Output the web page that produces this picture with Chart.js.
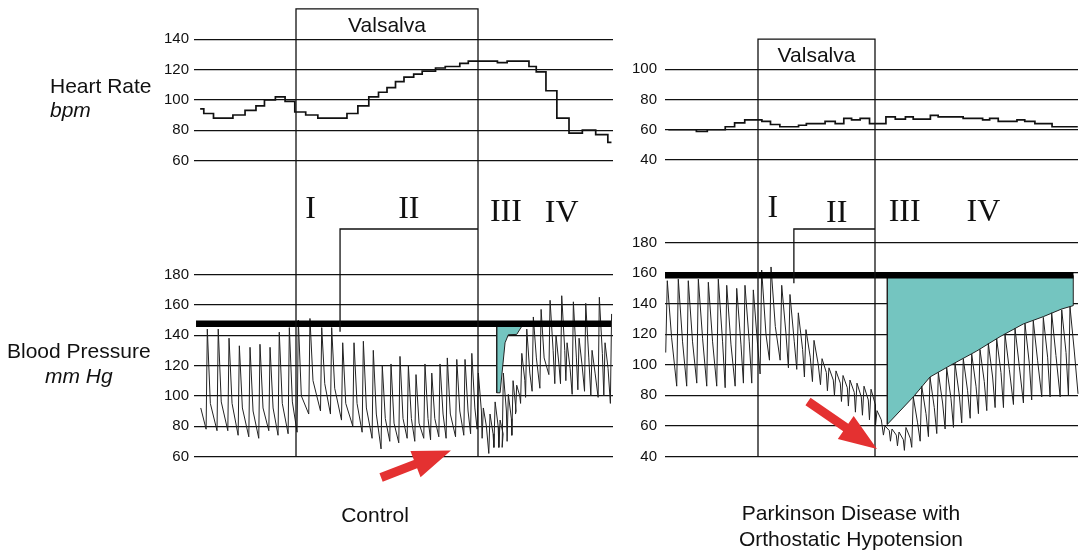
<!DOCTYPE html>
<html>
<head>
<meta charset="utf-8">
<title>Valsalva maneuver: heart rate and blood pressure</title>
<script src="https://cdn.jsdelivr.net/npm/chart.js@4.4.1/dist/chart.umd.min.js"></script>
<style>
  body { margin: 0; background: #fff; font-family: "Liberation Sans", Arial, sans-serif; color: #111; }
  .page { position: relative; width: 1080px; height: 552px; overflow: hidden; }
  canvas { position: absolute; top: 0; }
  #ctlChart { left: 0; }
  #pdChart { left: 620px; }
  .lbl { position: absolute; font-size: 21px; line-height: 21px; white-space: nowrap; }
  .it { font-style: italic; }
  .cap { position: absolute; font-size: 21px; line-height: 26px; text-align: center; }
</style>
</head>
<body>
<div class="page">
  <canvas id="ctlChart" width="620" height="552"></canvas>
  <canvas id="pdChart" width="460" height="552"></canvas>

  <div class="lbl" style="left:50px; top:75px">Heart Rate</div>
  <div class="lbl it" style="left:50px; top:99px">bpm</div>
  <div class="lbl" style="left:7px; top:340px">Blood Pressure</div>
  <div class="lbl it" style="left:45px; top:365px">mm Hg</div>

  <div class="cap" style="left:275px; top:502px; width:200px">Control</div>
  <div class="cap" style="left:701px; top:500px; width:300px">Parkinson Disease with<br>Orthostatic Hypotension</div>
</div>

<script>
// time axis in seconds, strain held from 0 to 15 s
const valsalvaStart = 0;
const valsalvaEnd = 15;
const phaseNames = ['I', 'II', 'III', 'IV'];

// ---- control subject ----
const ctlHrTicks = [60, 80, 100, 120, 140];
const ctlBpTicks = [60, 80, 100, 120, 140, 160, 180];

const ctlHrTime = [-7.9, -7.6, -6.8, -5.2, -4.2, -3.3, -2.6, -1.7, -0.9, -0.1, 0.8, 1.8, 4.2, 5.1, 6.0, 6.8, 7.5, 8.2,
                   8.9, 9.7, 10.4, 11.5, 12.3, 13.5, 14.2, 16.6, 17.4, 19.2, 19.8, 20.6, 21.5, 22.5, 23.6, 24.7, 25.7, 26.0];
const ctlHr = [94, 91, 88, 90, 93, 96, 100, 102, 99, 92, 90, 88, 91, 96, 102, 105, 108, 112,
               115, 117, 119, 121, 122, 124, 125.5, 124.5, 125.5, 122, 118.5, 106, 88, 78, 80, 77, 72, 72];

// one entry per beat: time of systolic peak, systolic, preceding diastolic and dicrotic notch pressure
const ctlBeatTime = [-7.31, -6.41, -5.52, -4.67, -3.79, -2.97, -2.14, -1.38, -0.55, 0.19,
                     1.15, 2.12, 2.94, 3.85, 4.78, 5.55, 6.37, 7.11, 7.83, 8.57,
                     9.26, 9.89, 10.63, 11.19, 11.87, 12.47, 13.25, 13.93, 14.49, 15.03,
                     15.44, 15.99, 16.41, 16.82, 17.09, 17.50, 17.89, 18.19, 18.61, 19.02,
                     19.56, 20.20, 20.94, 21.43, 21.90, 22.34, 22.86, 23.33, 23.88, 24.40,
                     25.00, 25.47, 26.01];
const ctlSys = [144, 144, 138, 133, 132, 134, 132, 142, 145, 150,
                151, 145, 145, 135, 135, 136, 130, 120, 121, 126,
                120, 114, 121, 115, 121, 125, 124, 124, 128, 115,
                92, 88, 96, 84, 115, 101, 110, 107, 128, 144,
                152, 157, 163, 140, 166, 135, 162, 138, 161, 130,
                165, 135, 154];
const ctlDia = [78, 77, 77, 74, 73, 72, 77, 74, 75, 76,
                88, 90, 88, 84, 80, 76, 72, 65, 70, 69,
                72, 70, 72, 71, 73, 72, 73, 74, 75, 78,
                72, 62, 66, 66, 66, 70, 74, 88, 95, 99,
                103, 105, 114, 108, 108, 110, 101, 104, 103, 100,
                99, 100, 95];
const ctlNotch = [95, 96, 95, 92, 90, 92, 92, 95, 96, 100,
                  110, 108, 105, 95, 95, 92, 88, 85, 82, 85,
                  85, 82, 85, 85, 88, 88, 90, 90, 92, 90,
                  80, 75, 80, 75, 90, 85, 90, 100, 110, 115,
                  125, 125, 130, 120, 130, 118, 125, 120, 125, 115,
                  128, 118, null];
const ctlBpStart = [-7.85, 92];
const ctlBaseline = 147.5;
const ctlBaselineSpan = [-8.24, 25.96];
// pressure recovery area below baseline
const ctlRecoveryTime = [16.54, 16.54, 16.82, 17.23, 17.50, 18.19, 18.74];
const ctlRecoveryBp = [147.5, 102, 102, 135, 140.3, 140.5, 147.5];
const ctlPhaseIIStart = 3.63;
const ctlPhaseLabelTime = [1.2, 9.3, 17.3, 21.9];
const ctlArrow = [7.01, 46.2, 12.77, 64.0];   // tail t, tail bp, tip t, tip bp

// ---- Parkinson disease with orthostatic hypotension ----
const pdHrTicks = [40, 60, 80, 100];
const pdBpTicks = [40, 60, 80, 100, 120, 140, 160, 180];

const pdHrTime = [-11.5, -7.9, -6.5, -4.2, -3.0, -1.7, 0.5, 1.6, 2.8, 5.2, 6.2, 8.6, 9.9, 11.0, 12.0, 13.1,
                  14.3, 16.4, 17.6, 18.9, 19.9, 22.1, 23.1, 26.3, 28.8, 29.7, 30.8, 33.2, 34.2, 35.5, 37.7, 41.0];
const pdHr = [60, 59, 60, 62, 64.5, 66.5, 65.5, 63.5, 62, 63, 64, 65.5, 64, 67.5, 66.5, 67.5,
              64, 68.5, 67, 68.5, 67, 69.5, 68.5, 67.5, 66.5, 67.5, 65.5, 66.5, 65.5, 64, 62, 62];

const pdBeatTime = [-11.63, -10.22, -8.94, -7.65, -6.37, -5.09, -4.01, -2.73, -1.67, -0.60,
                    0.47, 1.67, 3.04, 4.10, 5.17, 6.15, 7.18, 8.21, 9.10, 10.00,
                    10.90, 11.79, 12.69, 13.59, 14.49, 15.26, 16.28, 17.18, 18.08, 18.97,
                    19.91, 20.99, 22.05, 23.12, 24.19, 25.26, 26.32, 27.40, 28.46, 29.53,
                    30.60, 31.67, 32.95, 34.23, 35.29, 36.58, 37.65, 38.94, 40.00];
const pdSys = [155, 156, 155, 156, 154, 156, 152, 150, 152, 149,
               162, 164, 152, 146, 134, 123, 116, 104, 98, 96,
               93, 90, 88, 86, 84, 70, 60, 58, 56, 59,
               79, 86, 92, 95, 98, 101, 104, 107, 110, 114,
               117, 120, 124, 127, 129, 131, 134, 136, 138];
const pdDia = [108, 86, 86, 88, 86, 86, 85, 86, 88, 88,
               94, 103, 103, 98, 97, 92, 89, 87, 83, 80,
               76, 73, 69, 67, 64, 60, 54, 50, 47, 44,
               46, 50, 53, 55, 58, 59, 62, 65, 68, 70,
               72, 72, 74, 75, 77, 79, 79, 79, 80];
const pdNotch = [118, 115, 115, 117, 115, 115, 113, 113, 115, 113,
                 120, 125, 120, 115, 110, 105, 100, 95, 90, 88,
                 85, 82, 79, 77, 74, 64, 57, 54, 51, 52,
                 62, 68, 72, 75, 78, 80, 83, 86, 89, 92,
                 95, 97, 99, 101, 103, 105, 106, 108, 109];
const pdBpEnd = [41.03, 81];
const pdBaseline = 158.5;
const pdBaselineSpan = [-11.92, 40.45];
const pdRecoveryTime = [16.58, 16.58, 19.91, 22.05, 24.62, 28.04, 31.03, 34.01, 36.58, 38.94, 40.42, 40.42];
const pdRecoveryBp = [158.5, 61, 79, 92, 99.5, 109, 118.4, 126.7, 131.5, 136.5, 138.7, 158.5];
const pdPhaseIIStart = 4.6;
const pdPhaseLabelTime = [1.9, 10.1, 18.8, 28.9];
const pdArrow = [6.41, 76.0, 15.26, 44.9];

const INK = '#111';
const TEAL = '#74c5c0';
const ARROW_RED = '#e43131';
const SANS = '"Liberation Sans", Arial, Helvetica, sans-serif';
const SERIF = '"Liberation Serif", "Times New Roman", serif';
const SPLIT = 200;   // canvas row where the heart rate strip ends and the pressure strip begins

Chart.defaults.font.family = SANS;
Chart.defaults.color = INK;

// min/max so that the first and last tick land on the given canvas rows
// of a scale that covers rows regionTop..regionBottom
function spanFor(ticks, rows, regionTop, regionBottom) {
  const top = ticks[ticks.length - 1], bottom = ticks[0];
  const k = (rows[1] - rows[0]) / (top - bottom);
  return { min: bottom - (regionBottom - rows[1]) / k, max: top + (rows[0] - regionTop) / k };
}

function pts(xs, ys) {
  return xs.map((x, i) => ({ x: x, y: ys[i] }));
}

// beat-by-beat pressure trace: diastolic foot, upstroke to systolic peak,
// fall to the dicrotic notch, then run-off to the next foot
function pressureTrace(p) {
  const out = [];
  if (p.bpStart) out.push({ x: p.bpStart[0], y: p.bpStart[1] });
  p.beatTime.forEach((t, i) => {
    out.push({ x: t - p.upstroke, y: p.dia[i] });
    out.push({ x: t, y: p.sys[i] });
    if (p.notch[i] !== null) out.push({ x: t + p.notchDelay, y: p.notch[i] });
  });
  if (p.bpEnd) out.push({ x: p.bpEnd[0], y: p.bpEnd[1] });
  return out;
}

function drawArrow(ctx, x0, y0, x1, y1) {
  const len = Math.hypot(x1 - x0, y1 - y0);
  const ux = (x1 - x0) / len, uy = (y1 - y0) / len;
  const nx = -uy, ny = ux;
  const headLen = 38, headHalf = 14, shaftHalf = 4.5;
  const bx = x1 - ux * headLen, by = y1 - uy * headLen;
  ctx.beginPath();
  ctx.moveTo(x0 + nx * shaftHalf, y0 + ny * shaftHalf);
  ctx.lineTo(bx + nx * shaftHalf, by + ny * shaftHalf);
  ctx.lineTo(bx + nx * headHalf, by + ny * headHalf);
  ctx.lineTo(x1, y1);
  ctx.lineTo(bx - nx * headHalf, by - ny * headHalf);
  ctx.lineTo(bx - nx * shaftHalf, by - ny * shaftHalf);
  ctx.lineTo(x0 - nx * shaftHalf, y0 - ny * shaftHalf);
  ctx.closePath();
  ctx.fill();
}

// Valsalva box, phase boundaries, phase labels, phase II bracket and arrow
const valsalvaMarks = {
  id: 'valsalvaMarks',
  afterDatasetsDraw(chart, args, o) {
    const { ctx } = chart;
    const xs = chart.scales.x, hr = chart.scales.hr, bp = chart.scales.bp;
    const x0 = xs.getPixelForValue(valsalvaStart);
    const x1 = xs.getPixelForValue(valsalvaEnd);
    const boxTop = hr.getPixelForValue(o.boxTopHr);
    const boxBottom = hr.getPixelForValue(o.hrTicks[o.hrTicks.length - 1]);
    const floor = bp.getPixelForValue(o.bpTicks[0]);

    ctx.save();
    ctx.strokeStyle = INK;
    ctx.lineWidth = 1.3;
    ctx.beginPath();
    ctx.moveTo(x0, floor);
    ctx.lineTo(x0, boxTop);
    ctx.lineTo(x1, boxTop);
    ctx.lineTo(x1, floor);
    const xb = xs.getPixelForValue(o.phaseIIStart);
    ctx.moveTo(x1, o.bracketY);
    ctx.lineTo(xb, o.bracketY);
    ctx.lineTo(xb, bp.getPixelForValue(o.bracketEndBp));
    ctx.stroke();

    ctx.fillStyle = INK;
    ctx.textAlign = 'center';
    ctx.textBaseline = 'alphabetic';
    ctx.font = '21px ' + SANS;
    ctx.fillText('Valsalva', (x0 + x1) / 2, boxBottom - 7.5);

    ctx.font = '32px ' + SERIF;
    phaseNames.forEach((name, i) => {
      ctx.fillText(name, xs.getPixelForValue(o.phaseTimes[i]), o.phaseY[i]);
    });

    ctx.fillStyle = ARROW_RED;
    const a = o.arrow;
    drawArrow(ctx, xs.getPixelForValue(a[0]), bp.getPixelForValue(a[1]),
                   xs.getPixelForValue(a[2]), bp.getPixelForValue(a[3]));
    ctx.restore();
  }
};

function makePanel(id, p) {
  const canvas = document.getElementById(id);
  const H = canvas.height;
  const hrRange = spanFor(p.hrTicks, p.hrRows, 0, SPLIT);
  const bpRange = spanFor(p.bpTicks, p.bpRows, SPLIT, H);

  // heart rate and pressure axes share the left column, stacked top to bottom
  const yAxis = (ticks, range, weight, share) => ({
    type: 'linear',
    position: 'left',
    stack: 'strips',
    stackWeight: share,
    weight: weight,
    min: range.min,
    max: range.max,
    bounds: 'data',
    afterBuildTicks: (s) => { s.ticks = ticks.map(v => ({ value: v })); },
    afterFit: (s) => { s.width = p.axisWidth; s.paddingTop = 0; s.paddingBottom = 0; },
    grid: { color: INK, lineWidth: 1.2, drawTicks: false },
    border: { display: false },
    ticks: { autoSkip: false, padding: p.tickPad, font: { size: 15 }, color: INK }
  });

  return new Chart(canvas, {
    type: 'line',
    data: {
      datasets: [
        {
          label: 'baseline',
          data: pts(p.baselineSpan, [p.baseline, p.baseline]),
          yAxisID: 'bp', borderColor: '#000', borderWidth: 6.5, order: 0
        },
        {
          label: 'Heart rate',
          data: pts(p.hrTime, p.hr),
          yAxisID: 'hr', stepped: 'before', borderColor: INK, borderWidth: 1.7, order: 1
        },
        {
          label: 'Blood pressure',
          data: pressureTrace(p),
          yAxisID: 'bp', borderColor: '#222', borderWidth: 1, order: 2
        },
        {
          label: 'Recovery area',
          data: pts(p.recTime, p.recBp),
          yAxisID: 'bp', borderColor: '#222', borderWidth: 1,
          backgroundColor: TEAL, fill: { value: p.baseline }, order: 3
        }
      ]
    },
    options: {
      responsive: false,
      animation: false,
      clip: false,
      layout: { padding: { top: 0, bottom: 0, left: 0, right: p.padRight } },
      elements: { point: { radius: 0 }, line: { tension: 0 } },
      scales: {
        x: { type: 'linear', min: p.xMin, max: p.xMax, display: false },
        hr: yAxis(p.hrTicks, hrRange, 1, SPLIT),
        bp: yAxis(p.bpTicks, bpRange, 0, H - SPLIT)
      },
      plugins: {
        legend: { display: false },
        tooltip: { enabled: false },
        valsalvaMarks: {
          hrTicks: p.hrTicks, bpTicks: p.bpTicks, boxTopHr: p.boxTopHr,
          phaseIIStart: p.phaseIIStart, bracketY: 229, bracketEndBp: p.bracketEndBp,
          phaseTimes: p.phaseTimes, phaseY: p.phaseY, arrow: p.arrow
        }
      }
    },
    plugins: [valsalvaMarks]
  });
}

makePanel('ctlChart', {
  hrTicks: ctlHrTicks, bpTicks: ctlBpTicks,
  hrRows: [39.2, 160.5], bpRows: [274.5, 456.5],
  xMin: -8.407, xMax: 26.126, axisWidth: 194, padRight: 7, tickPad: 5,
  hrTime: ctlHrTime, hr: ctlHr,
  beatTime: ctlBeatTime, sys: ctlSys, dia: ctlDia, notch: ctlNotch,
  upstroke: 0.1, notchDelay: 0.25, bpStart: ctlBpStart, bpEnd: null,
  baseline: ctlBaseline, baselineSpan: ctlBaselineSpan,
  recTime: ctlRecoveryTime, recBp: ctlRecoveryBp,
  boxTopHr: 160, phaseIIStart: ctlPhaseIIStart, bracketEndBp: 142.3,
  phaseTimes: ctlPhaseLabelTime, phaseY: [218, 218, 221, 222], arrow: ctlArrow
});

makePanel('pdChart', {
  hrTicks: pdHrTicks, bpTicks: pdBpTicks,
  hrRows: [69.3, 160], bpRows: [242.5, 456.5],
  xMin: -11.923, xMax: 41.026, axisWidth: 45, padRight: 2, tickPad: 8,
  hrTime: pdHrTime, hr: pdHr,
  beatTime: pdBeatTime, sys: pdSys, dia: pdDia, notch: pdNotch,
  upstroke: 0.2, notchDelay: 0.55, bpStart: null, bpEnd: pdBpEnd,
  baseline: pdBaseline, baselineSpan: pdBaselineSpan,
  recTime: pdRecoveryTime, recBp: pdRecoveryBp,
  boxTopHr: 120, phaseIIStart: pdPhaseIIStart, bracketEndBp: 153.3,
  phaseTimes: pdPhaseLabelTime, phaseY: [217, 222, 221, 221], arrow: pdArrow
});
</script>
</body>
</html>
